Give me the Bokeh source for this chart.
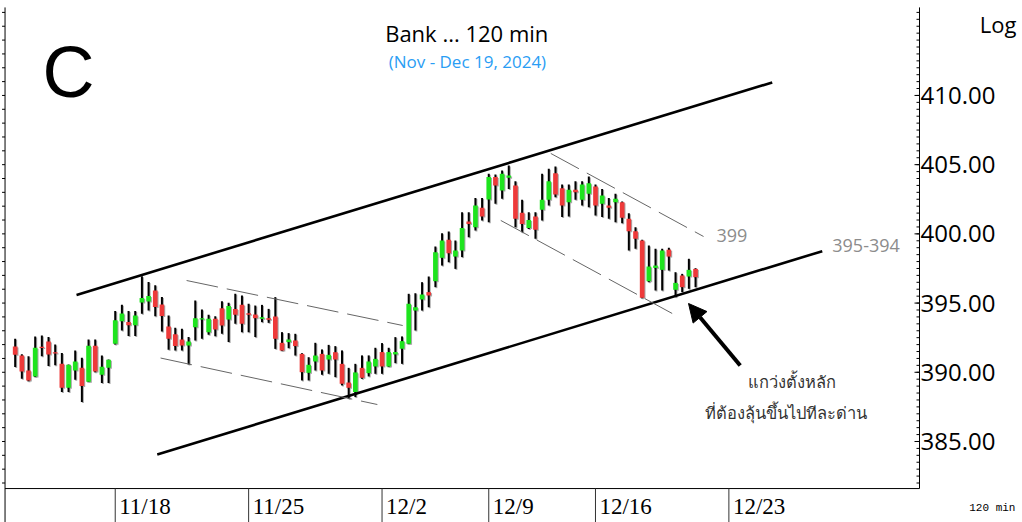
import numpy as np
from bokeh.plotting import figure
from bokeh.models import Arrow, NormalHead, ColumnDataSource
from bokeh.core.properties import value
from bokeh.embed import file_html
from bokeh.resources import INLINE

# ---------------- data (120-min bars, Nov - Dec 19, 2024) ----------------
opens = [391.87, 391.22, 390.13, 389.70, 391.84, 392.23, 391.44, 390.62, 388.88, 390.13,
         390.33, 389.32, 391.92, 389.82, 390.33, 392.06, 393.68, 393.63, 393.39, 395.05,
         395.12, 395.91, 394.90, 393.31, 392.74, 392.37, 391.93, 393.26, 393.81, 392.90,
         393.86, 394.63, 393.81, 394.58, 394.87, 394.27, 394.17, 393.86, 393.91, 394.03,
         392.13, 392.18, 392.30, 391.33, 389.96, 390.78, 391.33, 390.92, 391.45, 390.61,
         389.26, 388.57, 390.32, 389.94, 390.42, 391.46, 390.42, 391.29, 391.70, 392.06,
         394.46, 395.26, 395.79, 396.58, 398.27, 399.57, 398.36, 398.80, 400.89, 400.48,
         401.88, 402.48, 404.10, 403.13, 404.05, 403.49, 401.52, 400.43, 401.25, 401.74,
         402.46, 404.38, 403.30, 402.29, 403.18, 402.46, 402.89, 403.42, 402.17, 402.05,
         402.29, 402.29, 401.09, 400.19, 399.52, 396.58, 397.54, 397.40, 398.85, 395.96,
         396.99, 396.92, 397.47]
highs = [392.42, 391.30, 391.15, 392.59, 392.66, 392.54, 392.01, 391.39, 390.56, 391.58,
         391.05, 392.37, 392.37, 391.22, 390.93, 394.42, 394.88, 394.42, 394.42, 396.93,
         396.52, 396.28, 395.43, 394.11, 393.22, 393.14, 392.54, 395.19, 394.54, 394.15,
         394.05, 395.14, 395.02, 395.67, 395.55, 394.95, 394.82, 394.87, 394.58, 395.43,
         392.90, 392.83, 392.78, 391.38, 391.09, 392.13, 391.65, 391.98, 391.89, 391.58,
         390.32, 390.61, 391.22, 391.22, 391.77, 392.11, 391.77, 392.54, 392.59, 395.67,
         395.71, 396.51, 396.92, 399.09, 400.05, 400.17, 399.52, 401.57, 401.57, 402.60,
         402.60, 404.34, 404.29, 404.58, 404.94, 403.81, 402.46, 401.57, 401.57, 404.34,
         404.70, 404.87, 403.57, 403.57, 403.81, 403.81, 404.14, 403.57, 403.25, 402.60,
         402.89, 402.34, 401.49, 400.48, 399.57, 399.16, 398.92, 398.92, 399.00, 397.23,
         397.11, 398.20, 397.52]
lows = [390.38, 389.53, 389.36, 389.65, 391.15, 390.45, 390.50, 388.57, 388.57, 389.46,
        387.85, 389.30, 390.01, 389.22, 389.22, 392.01, 393.02, 392.62, 392.62, 394.23,
        394.47, 394.04, 392.95, 391.63, 391.58, 391.57, 390.56, 392.30, 392.42, 392.71,
        392.61, 392.78, 392.18, 393.50, 392.90, 392.90, 392.54, 393.62, 393.57, 391.69,
        391.55, 391.74, 391.21, 389.41, 389.41, 390.13, 389.82, 389.89, 389.65, 389.05,
        388.08, 388.21, 389.53, 389.70, 389.89, 389.89, 390.40, 390.66, 390.61, 392.04,
        393.02, 394.46, 394.70, 396.15, 397.71, 397.95, 397.47, 398.32, 399.76, 400.24,
        400.96, 400.84, 402.17, 402.53, 403.25, 400.48, 400.12, 400.36, 399.64, 400.96,
        402.05, 402.65, 401.21, 401.25, 402.46, 402.05, 401.93, 401.33, 401.21, 401.09,
        400.84, 400.77, 398.80, 398.92, 395.35, 396.51, 395.91, 395.91, 397.35, 395.43,
        395.79, 396.03, 396.15]
closes = [391.27, 390.06, 389.41, 391.77, 391.75, 391.29, 391.36, 388.88, 390.54, 390.78,
          389.00, 391.92, 390.06, 390.40, 390.91, 393.75, 394.25, 393.39, 394.11, 395.36,
          395.51, 394.71, 394.06, 392.42, 391.89, 391.93, 392.22, 393.91, 393.91, 393.86,
          393.09, 393.38, 394.78, 394.15, 393.50, 394.15, 393.91, 393.98, 393.79, 392.42,
          391.57, 392.37, 391.89, 390.01, 390.54, 391.21, 390.13, 391.26, 390.92, 389.17,
          388.88, 389.99, 389.60, 390.78, 390.97, 390.42, 391.46, 391.46, 392.25, 394.95,
          394.70, 395.62, 395.55, 398.68, 399.52, 398.60, 398.80, 400.43, 400.72, 402.05,
          401.25, 404.10, 403.49, 404.34, 404.22, 401.09, 400.72, 401.01, 400.29, 402.46,
          403.81, 402.84, 402.05, 403.18, 403.01, 403.57, 403.66, 402.05, 402.77, 401.88,
          402.53, 401.16, 400.19, 399.64, 395.38, 397.64, 397.71, 398.80, 398.36, 396.46,
          396.15, 397.40, 396.87]

week_ticks = [15, 35, 55, 71, 87, 107]            # bar index of first bar of each week
week_labels = ["11/18", "11/25", "12/2", "12/9", "12/16", "12/23"]
price_ticks = [385, 390, 395, 400, 405, 410]

# drawn trend lines (bar index, price)
chan_up_x, chan_up_y = [9.2, 113.5], [395.59, 410.94]
chan_lo_x, chan_lo_y = [21.3, 121.0], [384.06, 398.75]
flag1_up_x, flag1_up_y = [25.7, 58.1], [396.63, 393.38]
flag1_lo_x, flag1_lo_y = [21.8, 54.3], [391.03, 387.67]
flag2_up_x, flag2_up_y = [80.3, 103.2], [405.81, 399.81]
flag2_lo_x, flag2_lo_y = [72.8, 98.5], [400.97, 394.25]
arrow_from = (108.7, 390.49)
arrow_to = (100.95, 394.97)

# ---------------- figure: whole canvas is the data frame ----------------
W, H = 1022, 522
X0, X1 = -2.2, 151.02
Y0, Y1 = 379.147, 416.86
PX = (X1 - X0) / W          # one pixel in bar units
PY = (Y1 - Y0) / H          # one pixel in price units
R_EDGE = 135.58             # right edge of the price panel (bar units)
B_EDGE = 381.60             # bottom edge of the price panel (price)
T_EDGE = 416.36             # top of the axis line
L_EDGE = -1.52              # left border

p = figure(width=W, height=H, x_range=(X0, X1), y_range=(Y0, Y1),
           output_backend="svg", toolbar_location=None,
           x_axis_location=None, y_axis_location=None,
           min_border=0, min_border_left=0, min_border_right=0,
           min_border_top=0, min_border_bottom=0)
p.outline_line_color = None
p.xgrid.visible = False
p.ygrid.visible = False
p.background_fill_color = "white"
p.border_fill_color = "white"

# ---------------- price panel frame and axes ----------------
p.segment(x0=[R_EDGE], y0=[B_EDGE], x1=[R_EDGE], y1=[T_EDGE], color="black", line_width=1)
p.segment(x0=[L_EDGE], y0=[Y0], x1=[L_EDGE], y1=[T_EDGE], color="black", line_width=1)
p.segment(x0=[L_EDGE], y0=[B_EDGE], x1=[R_EDGE], y1=[B_EDGE], color="black", line_width=1)

minor = np.arange(382.0, 416.01, 0.5)
p.segment(x0=np.full(len(minor), R_EDGE - 3 * PX), y0=minor,
          x1=np.full(len(minor), R_EDGE), y1=minor, color="black", line_width=1)
p.segment(x0=np.full(len(price_ticks), R_EDGE - 5 * PX), y0=price_ticks,
          x1=np.full(len(price_ticks), R_EDGE), y1=price_ticks, color="black", line_width=1)
p.text(x=np.full(len(price_ticks), R_EDGE + 1 * PX), y=price_ticks,
       text=[f"{v:.2f}" for v in price_ticks], text_font=value("Open Sans"),
       text_font_size="24px", text_color="black", text_align="left",
       text_baseline="middle")
left_minor = np.arange(382, 417, 1)
p.segment(x0=np.full(len(left_minor), L_EDGE - 3 * PX), y0=left_minor,
          x1=np.full(len(left_minor), L_EDGE), y1=left_minor, color="black", line_width=1)

# week separators + date labels
p.segment(x0=week_ticks, y0=np.full(len(week_ticks), B_EDGE), x1=week_ticks,
          y1=np.full(len(week_ticks), Y0), color="#333333", line_width=1)
p.text(x=week_ticks, y=np.full(len(week_ticks), 380.30), text=week_labels, x_offset=4,
       text_font=value("Liberation Sans Narrow"), text_font_size="23px",
       text_color="black", text_align="left", text_baseline="middle")

# ---------------- candles ----------------
idx = np.arange(len(opens))
o = np.array(opens); c = np.array(closes); h = np.array(highs); l = np.array(lows)
up = c >= o
top = np.maximum(o, c)
bot = np.minimum(o, c)
colors = np.where(up, "#1ee41e", "#ee3a3a")
src = ColumnDataSource(dict(x=idx, xs=idx + PX, top=top, bot=bot, tops=top - PY,
                            bots=bot - PY, h=h, l=l, hs=h - PY, ls=l - PY, col=colors))
p.segment(x0="xs", y0="ls", x1="xs", y1="hs", source=src, color="#a8a8a8", line_width=2)
p.vbar(x="xs", top="tops", bottom="bots", width=0.7, source=src,
       fill_color="#a8a8a8", line_color=None)
p.segment(x0="x", y0="l", x1="x", y1="h", source=src, color="black", line_width=2)
p.vbar(x="x", top="top", bottom="bot", width=0.7, source=src,
       fill_color="col", line_color=None)

# ---------------- trend lines ----------------
p.line(chan_up_x, chan_up_y, color="black", line_width=2.6)
p.line(chan_lo_x, chan_lo_y, color="black", line_width=2.6)
for xs_, ys_ in [(flag1_up_x, flag1_up_y), (flag1_lo_x, flag1_lo_y),
                 (flag2_up_x, flag2_up_y), (flag2_lo_x, flag2_lo_y)]:
    p.line(xs_, ys_, color="#666666", line_width=1, line_dash="32 9")

p.add_layout(Arrow(end=NormalHead(size=18, fill_color="black", line_color="black"),
                   x_start=arrow_from[0], y_start=arrow_from[1],
                   x_end=arrow_to[0], y_end=arrow_to[1],
                   line_color="black", line_width=4))

# ---------------- texts ----------------
def txt(x, y, text, size, color="black", font="Open Sans", align="center"):
    p.text(x=[x], y=[y], text=[text], text_font=value(font), text_font_size=size,
           text_color=color, text_align=align, text_baseline="middle")

txt(8.0, 411.66, "C", "72px", font="Liberation Sans")
txt(67.7, 414.48, "Bank ... 120 min", "22px")
txt(67.8, 412.46, "(Nov - Dec 19, 2024)", "17px", color="#2a9df4")
txt(105.15, 399.88, "399", "18px", color="#8c8c8c", align="left")
txt(122.5, 399.16, "395-394", "18px", color="#8c8c8c", align="left")
txt(116.4, 389.34, "แกว่งตั้งหลัก", "16.5px", color="#333333", font="Noto Sans")
txt(115.6, 387.10, "ที่ต้องลุ้นขึ้นไปทีละด่าน", "16.5px", color="#333333", font="Noto Sans")
txt(150.1, 415.13, "Log", "22px", align="right")
txt(146.5, 380.16, "120 min", "11px", font="Liberation Mono")

open("out.html", "w").write(file_html(p, INLINE))
